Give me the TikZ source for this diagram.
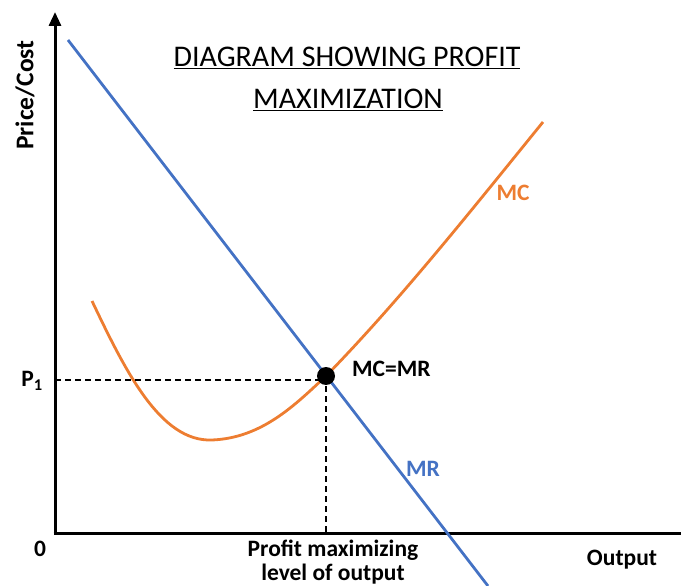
\documentclass[tikz,border=0pt]{standalone}
\usepackage{fontspec}
\setmainfont{Carlito}
\usetikzlibrary{arrows.meta}
\definecolor{mrblue}{HTML}{4472C4}
\definecolor{mcorange}{HTML}{ED7D31}
\begin{document}
\begin{tikzpicture}[x=1pt,y=-1pt,
  axisline/.style={line width=3pt,black},
  guide/.style={line width=1.3pt,dash pattern=on 6pt off 4pt},
  curve/.style={line width=2.8pt},
  lbl/.style={font=\fontsize{23.5}{27}\selectfont\bfseries,inner sep=0pt}]
\useasboundingbox (0,0) rectangle (681,586);
% axes
\coordinate (O) at (55,533);
\coordinate (ytop) at (55,12);
\coordinate (xend) at (697,533);
\draw[axisline,-{Triangle[length=14pt,width=12pt]}] ([yshift=1.5pt]O) -- (ytop);
\draw[axisline,-{Triangle[length=14pt,width=12pt]}] ([xshift=-1.5pt]O) -- (xend);
% curves
\coordinate (mr1) at (68,40);
\coordinate (mr2) at (488,586);
\draw[curve,mrblue] (mr1) -- (mr2);
\coordinate (E) at (326,376);
\coordinate (mc0) at (92,301);
\coordinate (mcmin) at (212,440);
\coordinate (mc1) at (543,122);
\draw[curve,mcorange] (mc0) .. controls (125,370) and (160,442) .. (mcmin)
  .. controls (262,438) and (295,405) .. (E)
  .. controls (400,300) and (470,212) .. (mc1);
% guides
\coordinate (p1y) at (55,380);
\coordinate (qx) at (326,533);
\draw[guide] (p1y) -- (E |- p1y);
\draw[guide] (E) -- (qx);
\fill (E) circle (9pt);
% labels
\node[font=\fontsize{30}{34}\selectfont] (title) at (347,58) {\underline{DIAGRAM SHOWING PROFIT}};
\node[font=\fontsize{30}{34}\selectfont] (title2) at (348,100) {\underline{MAXIMIZATION}};
\node[lbl,rotate=90,font=\fontsize{25.5}{29}\selectfont\bfseries] (ylab) at (25,95) {Price/Cost};
\node[lbl] (p1) at (32,381) {P\textsubscript{1}};
\node[lbl] (zero) at (40,549) {0};
\node[lbl] (xlab) at (622,560) {Output};
\node[lbl] (q1) at (333,550) {Profit maximizing};
\node[lbl] (q2) at (333,574) {level of output};
\node[lbl,anchor=west] (eq) at (352,369) {MC=MR};
\node[lbl,mrblue] (mrl) at (423,469) {MR};
\node[lbl,mcorange] (mcl) at (513,193) {MC};
\end{tikzpicture}
\end{document}
